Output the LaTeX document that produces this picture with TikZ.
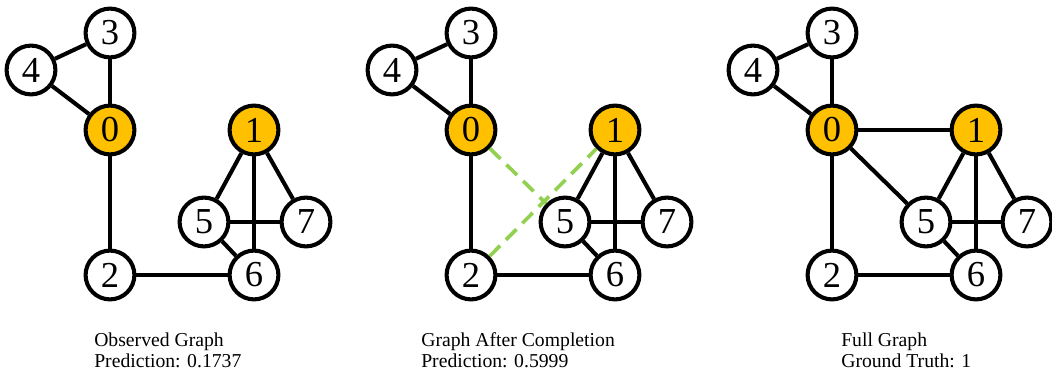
\documentclass[tikz,border=0pt]{standalone}
\usepackage{fontspec}
\setmainfont{Liberation Serif}
\usepackage{tikz}
\usetikzlibrary{arrows}
\definecolor{anchorgold}{HTML}{FFC000}
\definecolor{addgreen}{HTML}{92D050}
\tikzset{
  %Define style for graph vertices
  vtx/.style={
    circle,
    draw=black, line width=2.9pt,
    fill=white,
    inner sep=0pt,
    minimum size=1.22cm,
    font=\fontsize{26}{26}\selectfont},
  % Define style for the two query vertices
  query/.style={
    vtx,
    fill=anchorgold},
  % Define edge styles
  lnk/.style={
    line width=2.9pt,
    draw=black},
  added/.style={
    line width=2.6pt,
    draw=addgreen,
    dash pattern=on 10.5pt off 6pt},
  caption/.style={
    anchor=base west,
    inner sep=0pt,
    font=\fontsize{14}{16}\selectfont}
}

\begin{document}
\begin{tikzpicture}[x=0.025cm,y=-0.025cm]
      \useasboundingbox (0,0) rectangle (1052,372);
      % observed graph
      \node[query] (o0) at (110,130) {0};
      \node[query] (o1) at (254,130) {1};
      \node[vtx] (o2) at (110,275) {2};
      \node[vtx] (o3) at (110,33) {3};
      \node[vtx] (o4) at (31,70) {4};
      \node[vtx] (o5) at (204,222) {5};
      \node[vtx] (o6) at (254,275) {6};
      \node[vtx] (o7) at (306,222) {7};
      \path[lnk]
      (o3) edge (o4)
      (o4) edge (o0)
      (o3) edge (o0)
      (o0) edge (o2)
      (o2) edge (o6)
      (o1) edge (o5)
      (o1) edge (o6)
      (o1) edge (o7)
      (o5) edge (o7)
      (o5) edge (o6)
      ;
      \node[caption] (otitle) at (94,347) {Observed Graph};
      \node[caption] (opred) at (94,368) {Prediction: 0.1737};

      % graph after completion
      \node[query] (c0) at (471,130) {0};
      \node[query] (c1) at (615,130) {1};
      \node[vtx] (c2) at (471,275) {2};
      \node[vtx] (c3) at (471,33) {3};
      \node[vtx] (c4) at (392,70) {4};
      \node[vtx] (c5) at (565,222) {5};
      \node[vtx] (c6) at (615,275) {6};
      \node[vtx] (c7) at (667,222) {7};
      \path[lnk]
      (c3) edge (c4)
      (c4) edge (c0)
      (c3) edge (c0)
      (c0) edge (c2)
      (c2) edge (c6)
      (c1) edge (c5)
      (c1) edge (c6)
      (c1) edge (c7)
      (c5) edge (c7)
      (c5) edge (c6)
      ;
      \path[added]
      (c0) edge (c5)
      (c2) edge (c1)
      ;
      \node[caption] (ctitle) at (421,347) {Graph After Completion};
      \node[caption] (cpred) at (421,368) {Prediction: 0.5999};

      % full graph
      \node[query] (f0) at (832,130) {0};
      \node[query] (f1) at (976,130) {1};
      \node[vtx] (f2) at (832,275) {2};
      \node[vtx] (f3) at (832,33) {3};
      \node[vtx] (f4) at (753,70) {4};
      \node[vtx] (f5) at (926,222) {5};
      \node[vtx] (f6) at (976,275) {6};
      \node[vtx] (f7) at (1027,222) {7};
      \path[lnk]
      (f3) edge (f4)
      (f4) edge (f0)
      (f3) edge (f0)
      (f0) edge (f2)
      (f0) edge (f1)
      (f0) edge (f5)
      (f2) edge (f6)
      (f1) edge (f5)
      (f1) edge (f6)
      (f1) edge (f7)
      (f5) edge (f7)
      (f5) edge (f6)
      ;
      \node[caption] (ftitle) at (841,347) {Full Graph};
      \node[caption] (ftruth) at (841,368) {Ground Truth: 1};
    \end{tikzpicture}
\end{document}
